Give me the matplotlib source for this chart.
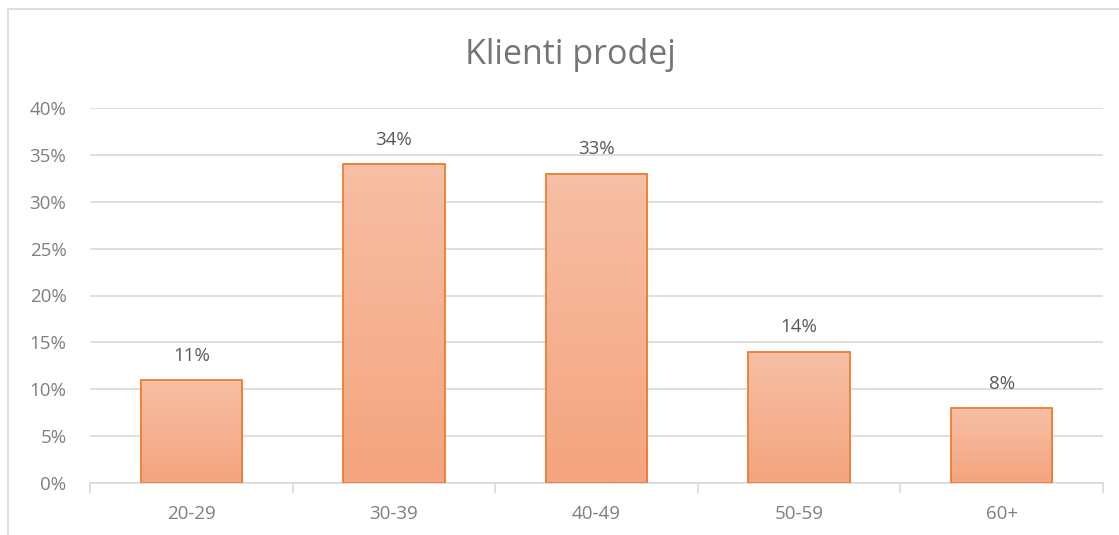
import numpy as np
import matplotlib
matplotlib.use("Agg")
import matplotlib.pyplot as plt
from matplotlib.colors import LinearSegmentedColormap
from matplotlib.lines import Line2D

# data
categories = ["20-29", "30-39", "40-49", "50-59", "60+"]
values = [11, 34, 33, 14, 8]
yticks = [0, 5, 10, 15, 20, 25, 30, 35, 40]

plt.rcParams["font.family"] = ["Open Sans", "DejaVu Sans"]

fig = plt.figure(figsize=(11.19, 5.35), dpi=100)
ax = fig.add_axes([90 / 1119, 52 / 535, 1013 / 1119, 375 / 535])

x = np.arange(len(categories))
bars = ax.bar(x, values, width=0.5, facecolor="none", edgecolor="#ED7D31",
              linewidth=1.3, zorder=3)

# gradient fill inside bars
cmap = LinearSegmentedColormap.from_list("grad", ["#F4A47E", "#F7BFA5"])
grad = np.linspace(0, 1, 256).reshape(-1, 1)
for b in bars:
    im = ax.imshow(grad, cmap=cmap, aspect="auto", origin="lower",
                   extent=[b.get_x(), b.get_x() + b.get_width(), 0, b.get_height()],
                   zorder=2)
    im.set_clip_path(b)

for xi, v in zip(x, values):
    ax.annotate(f"{v}%", (xi, v), xytext=(0, 11), textcoords="offset points",
                ha="center", va="bottom", fontsize=13.5, color="#595959")

ax.set_xlim(-0.5, len(categories) - 0.5)
ax.set_ylim(0, 40)
ax.set_yticks(yticks)
ax.set_yticklabels([f"{t}%" for t in yticks])
ax.yaxis.grid(True, color="#D9D9D9", linewidth=1.2, zorder=0)
ax.set_axisbelow(True)
ax.tick_params(axis="y", length=0, pad=17, labelsize=13.5, labelcolor="#7F7F7F")

ax.set_xticks(x)
ax.set_xticklabels(categories)
ax.set_xticks(np.arange(len(categories) + 1) - 0.5, minor=True)
ax.tick_params(axis="x", which="major", length=0, pad=16, labelsize=13.5,
               labelcolor="#7F7F7F")
ax.tick_params(axis="x", which="minor", length=7, color="#D9D9D9", width=1.2)

for s in ["top", "right", "left"]:
    ax.spines[s].set_visible(False)
ax.spines["bottom"].set_color("#D9D9D9")
ax.spines["bottom"].set_linewidth(1.2)

fig.text(570 / 1119, 1 - 55 / 535, "Klienti prodej", ha="center", va="center",
         fontsize=24.5, color="#757575")

# chart border
fig.add_artist(Line2D([8 / 1119, 1], [1 - 9 / 535, 1 - 9 / 535],
                      color="#D9D9D9", linewidth=1.2))
fig.add_artist(Line2D([8 / 1119, 8 / 1119], [0, 1 - 9 / 535],
                      color="#D9D9D9", linewidth=1.2))

fig.savefig("out.png", dpi=100)
